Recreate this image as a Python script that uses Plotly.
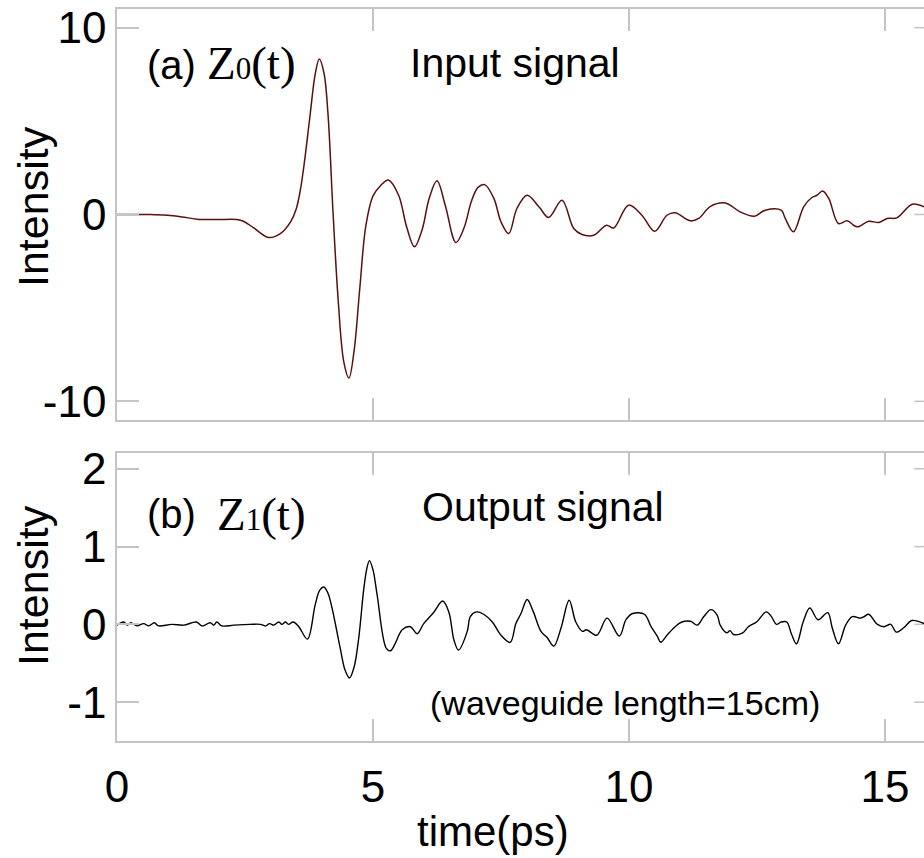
import plotly.graph_objects as go

# ---- data -------------------------------------------------------------
# (a) input pulse Z0(t)
t_in = [0.00, 0.65, 0.98, 1.27, 1.56, 1.95, 2.34, 2.47, 2.67, 2.96, 3.19, 3.39,
        3.50, 3.58, 3.66, 3.77, 3.87, 3.95, 4.04, 4.12, 4.22, 4.32, 4.43, 4.53,
        4.63, 4.74, 4.86, 5.00, 5.15, 5.30, 5.50, 5.66, 5.81, 5.96, 6.10, 6.25,
        6.41, 6.62, 6.78, 6.92, 7.05, 7.18, 7.36, 7.50, 7.65, 7.81, 8.01, 8.24,
        8.43, 8.69, 8.92, 9.08, 9.31, 9.56, 9.70, 9.99, 10.25, 10.50, 10.74,
        10.90, 11.20, 11.36, 11.59, 11.88, 12.17, 12.45, 12.66, 12.97, 13.05,
        13.21, 13.41, 13.57, 13.67, 13.78, 13.90, 14.09, 14.26, 14.45, 14.68,
        14.88, 15.04, 15.23, 15.53, 15.76]
z0_in = [0.00, 0.00, -0.04, -0.13, -0.25, -0.27, -0.27, -0.36, -0.72, -1.23, -1.02, -0.39,
         0.30, 1.30, 2.80, 5.30, 7.50, 8.32, 7.60, 5.40, 0.05, -4.60, -7.90, -8.75,
         -7.30, -4.00, -0.60, 1.00, 1.55, 1.85, 1.03, -0.70, -1.73, -0.80, 0.90, 1.80,
         0.50, -1.50, -0.70, 0.70, 1.45, 1.60, 0.86, -0.40, -1.02, 0.32, 1.03, 0.41,
         -0.16, 0.76, -0.75, -1.07, -1.11, -0.57, -0.72, 0.50, -0.04, -0.90, -0.04,
         0.09, -0.34, -0.21, 0.44, 0.62, 0.14, -0.09, 0.23, 0.23, -0.21,
         -0.93, 0.41, 0.91, 1.03, 1.26, 0.86, -0.48, -0.34, -0.66, -0.36,
         -0.43, -0.21, -0.18, 0.55, 0.41]

# (b) output pulse Z1(t) after the 15 cm waveguide
t_out = [0.00, 0.13, 0.20, 0.27, 0.39, 0.52, 0.62, 0.73, 0.81, 1.07, 1.30, 1.55,
         1.66, 1.82, 1.89, 1.95, 2.05, 2.28, 2.60, 2.80, 2.90, 2.98, 3.06, 3.16,
         3.22, 3.29, 3.35, 3.44, 3.55, 3.72, 3.87, 3.96, 4.04, 4.12, 4.20, 4.36,
         4.45, 4.54, 4.63, 4.72, 4.82, 4.88, 4.93, 5.00, 5.08, 5.26, 5.34, 5.43,
         5.57, 5.73, 5.86, 5.99, 6.18, 6.36, 6.48, 6.58, 6.67, 6.84, 6.90, 7.02,
         7.16, 7.33, 7.50, 7.68, 7.79, 7.89, 8.01, 8.12, 8.28, 8.40, 8.53, 8.67,
         8.83, 8.96, 9.09, 9.17, 9.37, 9.57, 9.81, 9.94, 10.07, 10.30, 10.43,
         10.55, 10.62, 10.74, 10.90, 11.03, 11.20, 11.33, 11.46, 11.60, 11.72,
         11.78, 11.91, 11.97, 12.04, 12.22, 12.33, 12.49, 12.68, 12.78, 12.88,
         12.97, 13.08, 13.17, 13.27, 13.40, 13.53, 13.69, 13.88, 13.97, 14.09,
         14.23, 14.36, 14.52, 14.59, 14.68, 14.85, 14.98, 15.11, 15.22, 15.37,
         15.52, 15.76]
z1_out = [-0.01, 0.03, -0.01, 0.02, -0.02, 0.01, -0.02, 0.02, -0.02, 0.00, -0.01, 0.03,
          -0.02, 0.02, -0.01, 0.03, -0.02, -0.01, 0.00, 0.00, -0.02, 0.01, -0.01, 0.03,
          0.00, 0.03, 0.00, 0.03, -0.03, -0.19, 0.25, 0.44, 0.48, 0.40, 0.21, -0.31,
          -0.58, -0.69, -0.55, -0.18, 0.46, 0.72, 0.82, 0.70, 0.38, -0.31, -0.34, -0.25,
          -0.07, -0.03, -0.12, 0.01, 0.15, 0.30, 0.16, -0.20, -0.33, -0.09, 0.10, 0.16,
          0.13, 0.03, -0.14, -0.23, 0.01, 0.14, 0.32, 0.18, -0.09, -0.17, -0.28, -0.05,
          0.31, 0.03, -0.09, -0.07, -0.14, 0.08, -0.15, 0.06, 0.14, 0.13, -0.03,
          -0.15, -0.23, -0.14, -0.03, 0.03, 0.04, -0.01, 0.10, 0.19, 0.12,
          -0.01, -0.11, -0.08, -0.13, -0.11, -0.03, 0.03, 0.16, 0.10, 0.00,
          0.03, 0.03, -0.12, -0.25, 0.03, 0.21, 0.06, 0.15, -0.05, -0.25,
          -0.01, 0.10, 0.08, 0.10, 0.13, 0.00, -0.03, 0.00, -0.10, -0.04,
          0.05, 0.01]

x_ticks = [0, 5, 10, 15]
y_ticks_a = [-10, 0, 10]
y_ticks_b = [-1, 0, 1, 2]

# ---- geometry helpers (pixel -> paper) --------------------------------
W, H = 924, 858
L = 117
PW = W - L


def px(x):
    return (x - L) / PW


def py(y):
    return 1 - y / H


SANS = "Liberation Sans, Arial, sans-serif"
SERIF = "Liberation Serif, Times New Roman, serif"
AXC = "#c4c4c4"
X_END = 15.76

fig = go.Figure()
fig.add_trace(go.Scatter(x=t_in, y=z0_in, mode="lines", xaxis="x", yaxis="y",
                         line=dict(color="#5a1010", width=1.5, shape="spline", smoothing=1.0),
                         showlegend=False, hoverinfo="skip"))
fig.add_trace(go.Scatter(x=t_out, y=z1_out, mode="lines", xaxis="x2", yaxis="y2",
                         line=dict(color="#000000", width=1.4, shape="spline", smoothing=1.0),
                         showlegend=False, hoverinfo="skip"))

common_x = dict(range=[0, X_END], tickvals=x_ticks, ticks="inside", ticklen=22,
                tickwidth=1.5, tickcolor=AXC, showline=True, linecolor=AXC,
                linewidth=1.5, mirror="ticks", showgrid=False, zeroline=False,
                automargin=False)
common_y = dict(ticks="inside", ticklen=22, tickwidth=1.5, tickcolor=AXC,
                showline=True, linecolor=AXC, linewidth=1.5, mirror=False,
                showgrid=False, zeroline=False, automargin=False,
                tickfont=dict(family=SANS, size=44, color="black"),
                ticklabelstandoff=0)

fig.update_layout(
    width=W, height=H,
    margin=dict(l=L, r=0, t=0, b=0),
    paper_bgcolor="white", plot_bgcolor="white",
    xaxis=dict(common_x, domain=[0, 1], anchor="y", showticklabels=False),
    yaxis=dict(common_y, domain=[py(420), py(9)], anchor="x", range=[-11, 11],
               tickvals=y_ticks_a, ticktext=[str(v) for v in y_ticks_a]),
    xaxis2=dict(common_x, domain=[0, 1], anchor="y2", showticklabels=True,
                tickfont=dict(family=SANS, size=44, color="black"),
                ticklabelstandoff=6),
    yaxis2=dict(common_y, domain=[py(741), py(453.3)], anchor="x2", range=[-1.5, 2.2],
                tickvals=y_ticks_b, ticktext=[str(v) for v in y_ticks_b]),
)

# right-hand tick marks (the right frame edge lies just beyond the page)
for v in y_ticks_a:
    fig.add_shape(type="line", xref="x", yref="y", x0=15.57, x1=X_END, y0=v, y1=v,
                  line=dict(color=AXC, width=1.5))
for v in y_ticks_b:
    fig.add_shape(type="line", xref="x2", yref="y2", x0=15.57, x1=X_END, y0=v, y1=v,
                  line=dict(color=AXC, width=1.5), layer="below")


def label(text, x, y, size, family=SANS, angle=0, xanchor="left"):
    fig.add_annotation(text=text, x=px(x), y=py(y), xref="paper", yref="paper",
                       xanchor=xanchor, yanchor="middle", showarrow=False,
                       textangle=angle, font=dict(family=family, size=size, color="black"))


label("(a)", 145, 65, 40)
label("Z<span style='font-size:31px'>0</span>(t)", 205, 63, 47, family=SERIF)
label("Input signal", 408, 63, 41)
label("(b)", 145, 514, 40)
label("Z<span style='font-size:31px'>1</span>(t)", 215, 514, 47, family=SERIF)
label("Output signal", 420, 507, 41)
label("(waveguide length=15cm)", 428, 703, 34)
label("time(ps)", 493, 831, 42, xanchor="center")
label("Intensity", 33, 207, 43, angle=-90, xanchor="center")
label("Intensity", 33, 586, 43, angle=-90, xanchor="center")

fig.write_html("out.html")
